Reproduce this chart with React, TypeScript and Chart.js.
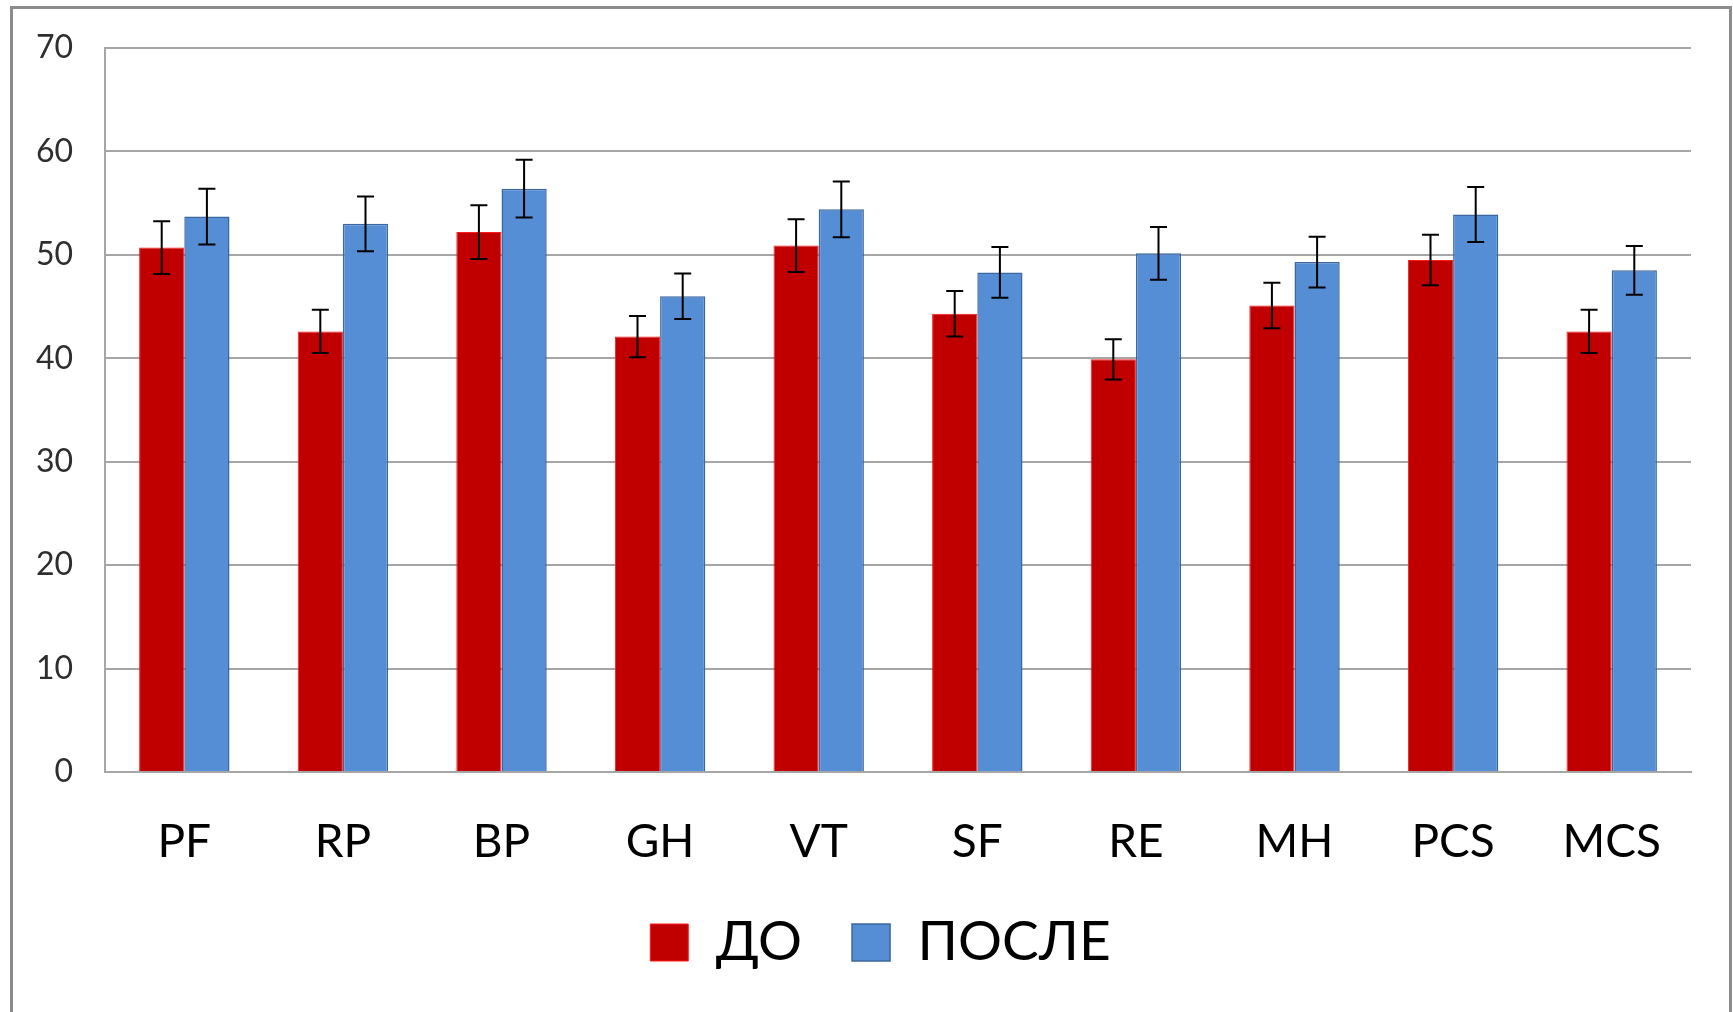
import React, { useEffect, useRef } from "react";
import { Chart, registerables } from "chart.js";

Chart.register(...registerables);

const categories = ["PF", "RP", "BP", "GH", "VT", "SF", "RE", "MH", "PCS", "MCS"];
const seriesNames = ["ДО", "ПОСЛЕ"];
const before = [50.7, 42.6, 52.2, 42.1, 50.9, 44.3, 39.9, 45.1, 49.5, 42.6];
const after = [53.7, 53.0, 56.4, 46.0, 54.4, 48.3, 50.15, 49.3, 53.9, 48.5];
const errBefore = [2.55, 2.1, 2.6, 2.0, 2.55, 2.2, 1.95, 2.2, 2.45, 2.1];
const errAfter = [2.7, 2.65, 2.8, 2.2, 2.7, 2.45, 2.55, 2.45, 2.65, 2.35];
const yMin = 0;
const yMax = 70;
const yStep = 10;

const FONT = "Lato, 'Open Sans', sans-serif";

const errorBarPlugin = {
  id: "errorBars",
  afterDatasetsDraw(chart: any) {
    const ctx = chart.ctx;
    const yScale = chart.scales.y;
    const errs = [errBefore, errAfter];
    ctx.save();
    ctx.strokeStyle = "#000000";
    ctx.lineWidth = 2;
    chart.data.datasets.forEach((ds: any, di: number) => {
      const meta = chart.getDatasetMeta(di);
      meta.data.forEach((el: any, i: number) => {
        const v = ds.data[i];
        const e = errs[di][i];
        const x = el.x;
        const yT = yScale.getPixelForValue(v + e);
        const yB = yScale.getPixelForValue(v - e);
        const half = 8.5;
        ctx.beginPath();
        ctx.moveTo(x, yT);
        ctx.lineTo(x, yB);
        ctx.moveTo(x - half, yT);
        ctx.lineTo(x + half, yT);
        ctx.moveTo(x - half, yB);
        ctx.lineTo(x + half, yB);
        ctx.stroke();
      });
    });
    ctx.restore();
  },
};

// centre the legend under the plot area rather than the whole canvas
const legendShiftPlugin = {
  id: "legendShift",
  afterLayout(chart: any) {
    const lg = chart.legend;
    if (!lg) return;
    const shift = 35;
    lg.left += shift;
    lg.right += shift;
  },
};

export default function App() {
  const ref = useRef<HTMLCanvasElement | null>(null);
  useEffect(() => {
    if (!ref.current) return;
    const chart = new Chart(ref.current, {
      type: "bar",
      data: {
        labels: categories,
        datasets: [
          {
            label: seriesNames[0],
            data: before,
            backgroundColor: "#C00000",
            borderColor: "#FF1A1A",
            borderWidth: 1,
            categoryPercentage: 0.57,
            barPercentage: 1.0,
          },
          {
            label: seriesNames[1],
            data: after,
            backgroundColor: "#558ED5",
            borderColor: "#3B679E",
            borderWidth: 1.5,
            categoryPercentage: 0.57,
            barPercentage: 1.0,
          },
        ],
      },
      options: {
        responsive: false,
        animation: false,
        devicePixelRatio: 1,
        layout: { padding: { left: 0, right: 42, top: 48, bottom: 32 } },
        plugins: {
          tooltip: { enabled: false },
          legend: {
            position: "bottom",
            labels: {
              font: { family: FONT, size: 55 },
              color: "#000000",
              boxWidth: 38,
              boxHeight: 37,
              padding: 50,
            },
          },
        },
        scales: {
          x: {
            grid: { display: false, drawTicks: false },
            border: { display: true, color: "#A6A6A6", width: 2 },
            ticks: {
              font: { family: FONT, size: 46 },
              color: "#000000",
              padding: 43,
            },
            afterFit(scale: any) {
              scale.height = 93;
              scale.paddingLeft = 0;
              scale.paddingRight = 0;
            },
          },
          y: {
            min: yMin,
            max: yMax,
            grid: { color: "#A6A6A6", lineWidth: 2, drawTicks: false },
            border: { display: true, color: "#A6A6A6", width: 2 },
            ticks: {
              stepSize: yStep,
              font: { family: FONT, size: 32 },
              color: "#2E2E2E",
              padding: 32,
            },
            afterFit(scale: any) {
              scale.width = 105;
              scale.paddingTop = 0;
              scale.paddingBottom = 0;
            },
          },
        },
      },
      plugins: [errorBarPlugin, legendShiftPlugin],
    });
    return () => chart.destroy();
  }, []);

  return (
    <div
      style={{
        position: "absolute",
        left: 0,
        top: 0,
        width: 1733,
        height: 1012,
        overflow: "hidden",
        background: "#ffffff",
      }}
    >
      <div
        style={{
          position: "absolute",
          left: 10,
          top: 6,
          width: 1722,
          height: 1100,
          border: "3px solid #8C8C8C",
          boxSizing: "border-box",
        }}
      />
      <canvas
        ref={ref}
        width={1733}
        height={1012}
        style={{ position: "absolute", left: 0, top: 0, width: 1733, height: 1012 }}
      />
    </div>
  );
}
